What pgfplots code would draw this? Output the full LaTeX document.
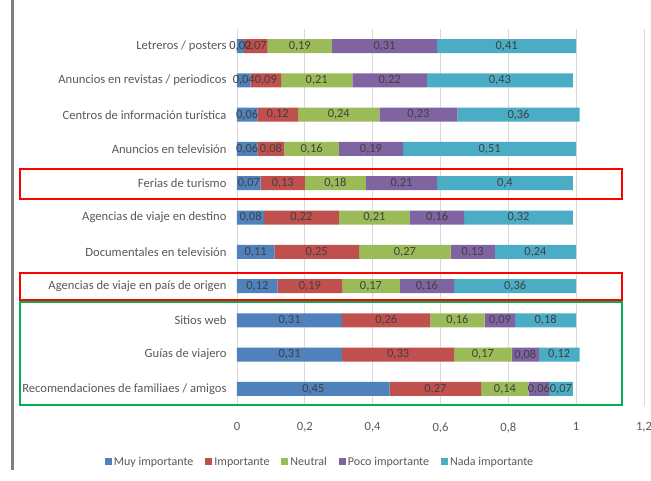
\documentclass[border=0pt]{standalone}
\usepackage{pgfplots}
\pgfplotsset{compat=1.18}
\usepackage{pgfplotstable}
\usepackage{fontspec}
\setmainfont{Carlito}
\definecolor{c1}{HTML}{4F81BD}
\definecolor{c2}{HTML}{C0504D}
\definecolor{c3}{HTML}{9BBB59}
\definecolor{c4}{HTML}{8064A2}
\definecolor{c5}{HTML}{4BACC6}
\definecolor{txt}{HTML}{595959}
\definecolor{lbl}{HTML}{404040}
\definecolor{boxgreen}{HTML}{00B050}
\pgfplotstableread{
y muy imp neu poco nada
0 0.02 0.07 0.19 0.31 0.41
1 0.04 0.09 0.21 0.22 0.43
2 0.06 0.12 0.24 0.23 0.36
3 0.06 0.08 0.16 0.19 0.51
4 0.07 0.13 0.18 0.21 0.4
5 0.08 0.22 0.21 0.16 0.32
6 0.11 0.25 0.27 0.13 0.24
7 0.12 0.19 0.17 0.16 0.36
8 0.31 0.26 0.16 0.09 0.18
9 0.31 0.33 0.17 0.08 0.12
10 0.45 0.27 0.14 0.06 0.07
}\data
\begin{document}
\begin{tikzpicture}[x=1pt,y=1pt]
\useasboundingbox (0,0) rectangle (651,480);
\fill[white] (0,0) rectangle (651,480);
\begin{axis}[
  at={(237pt,74pt)}, anchor=south west,
  scale only axis, width=407pt, height=377pt,
  xbar stacked, bar width=14pt,
  xmin=0, xmax=1.2, ymin=-0.5, ymax=10.5,
  y dir=reverse,
  xtick={0,0.2,0.4,0.6,0.8,1,1.2},
  xticklabels={0,{0,2},{0,4},{0,6},{0,8},1,{1,2}},
  ytick={0,...,10},
  yticklabels={Letreros / posters, Anuncios en revistas / periodicos, Centros de información turística, Anuncios en televisión, Ferias de turismo, Agencias de viaje en destino, Documentales en televisión, Agencias de viaje en país de origen, Sitios web, Guías de viajero, Recomendaciones de familiaes / amigos},
  xmajorgrids, grid style={draw=black!15, line width=0.8pt},
  major tick length=0pt,
  axis line style={draw=none},
  tick label style={font=\fontsize{12.6}{14}\selectfont, text=txt},
  yticklabel style={xshift=-7pt},
  xticklabel style={yshift=-13pt},
  clip=false,
  point meta=explicit,
  nodes near coords={\pgfmathprintnumber[fixed,precision=2,use comma,assume math mode=true]{\pgfplotspointmeta}},
  every node near coord/.append style={font=\fontsize{12.4}{14}\selectfont, text=lbl},
  legend columns=5,
  legend style={draw=none, at={(0.204,-0.1485)}, anchor=center, font=\fontsize{12}{14}\selectfont, text=txt, /tikz/every even column/.append style={column sep=10pt}},
  legend image code/.code={\fill (0pt,-3.5pt) rectangle (7pt,3.5pt);},
]
\addplot[fill=c1, draw=none] table[x=muy, y=y, meta=muy] \data;
\addplot[fill=c2, draw=none] table[x=imp, y=y, meta=imp] \data;
\addplot[fill=c3, draw=none] table[x=neu, y=y, meta=neu] \data;
\addplot[fill=c4, draw=none] table[x=poco, y=y, meta=poco] \data;
\addplot[fill=c5, draw=none] table[x=nada, y=y, meta=nada] \data;
\legend{Muy importante, Importante, Neutral, Poco importante, Nada importante}
\end{axis}
\draw[line width=3pt, black!50] (12,10) -- (12,480);
\draw[line width=2.5pt, red] (20,281) rectangle (622,311);
\draw[line width=2.5pt, red] (20,180) rectangle (622,207);
\draw[line width=2.5pt, boxgreen] (20,75) rectangle (622,178);
\end{tikzpicture}
\end{document}
